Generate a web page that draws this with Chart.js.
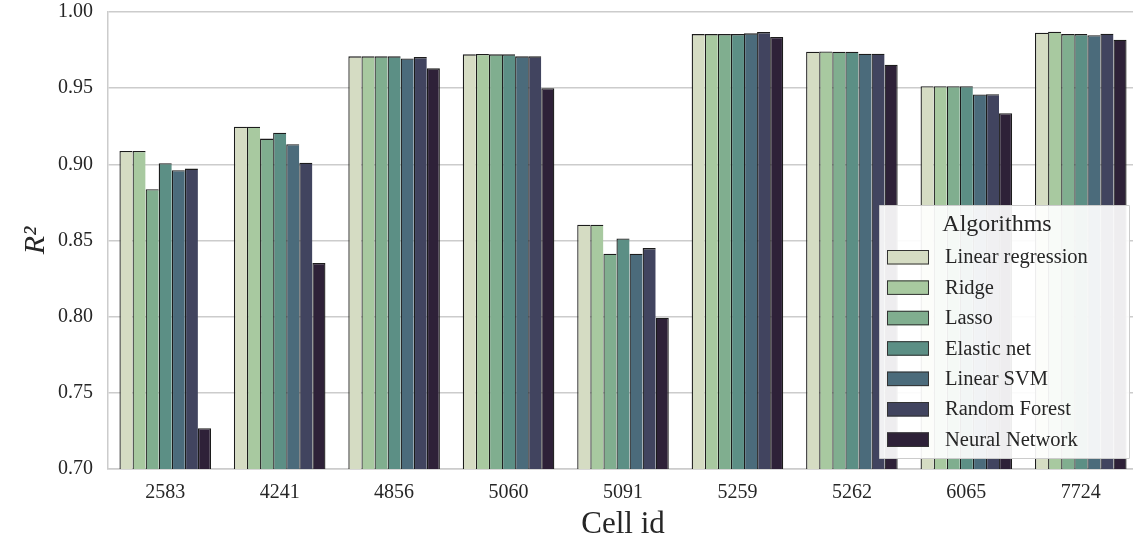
<!DOCTYPE html>
<html>
<head>
<meta charset="utf-8">
<script src="https://cdn.jsdelivr.net/npm/chart.js@4.4.0/dist/chart.umd.min.js"></script>
<style>
  html, body { margin: 0; padding: 0; overflow: hidden; background: #fff; }
  #wrap { width: 1138px; height: 540px; }
</style>
</head>
<body>
<div id="wrap"><canvas id="myChart"></canvas></div>
<script>
// categories
const cellIds = ['2583', '4241', '4856', '5060', '5091', '5259', '5262', '6065', '7724'];
// R^2 per algorithm
const linearRegression = [0.9088, 0.9247, 0.9709, 0.9722, 0.8603, 0.9855, 0.9739, 0.9513, 0.9864];
const ridge            = [0.9088, 0.9247, 0.9709, 0.9724, 0.8603, 0.9855, 0.9741, 0.9513, 0.9871];
const lasso            = [0.8837, 0.9169, 0.9709, 0.9722, 0.8413, 0.9855, 0.9739, 0.9513, 0.9855];
const elasticNet       = [0.9007, 0.9208, 0.9709, 0.9722, 0.8513, 0.9855, 0.9739, 0.9513, 0.9855];
const linearSVM        = [0.8961, 0.9132, 0.9695, 0.9709, 0.8413, 0.9860, 0.9726, 0.9459, 0.9847];
const randomForest     = [0.8972, 0.9011, 0.9704, 0.9709, 0.8450, 0.9868, 0.9726, 0.9460, 0.9858];
const neuralNetwork    = [0.7268, 0.8353, 0.9630, 0.9500, 0.7993, 0.9836, 0.9654, 0.9336, 0.9818];
// y tick labels
const yTicks = ['0.70', '0.75', '0.80', '0.85', '0.90', '0.95', '1.00'];

const seriesNames = ['Linear regression', 'Ridge', 'Lasso', 'Elastic net', 'Linear SVM', 'Random Forest', 'Neural Network'];
const seriesValues = [linearRegression, ridge, lasso, elasticNet, linearSVM, randomForest, neuralNetwork];
const palette = ['#d5dcc3', '#a8c9a0', '#80ae8f', '#5c8f85', '#4b6b7b', '#41445f', '#2e2138'];

const serif = "'Liberation Serif', 'DejaVu Serif', serif";
const textColor = '#262626';
const gridColor = '#cccccc';

// legend drawn inside the plot, like the matplotlib one
const insideLegend = {
    id: 'insideLegend',
    afterDraw(chart) {
        const ctx = chart.ctx;
        const area = chart.chartArea;
        const w = 250, h = 253;
        const x = area.right - 9 - w;
        const y = area.bottom - 11 - h;
        ctx.save();
        ctx.fillStyle = 'rgba(255,255,255,0.92)';
        ctx.strokeStyle = gridColor;
        ctx.lineWidth = 1;
        ctx.beginPath();
        ctx.rect(x + 0.5, y + 0.5, w, h);
        ctx.fill();
        ctx.stroke();
        // title
        ctx.fillStyle = textColor;
        ctx.font = '24px ' + serif;
        ctx.textAlign = 'center';
        ctx.textBaseline = 'middle';
        ctx.fillText('Algorithms', x + w / 2 - 7, y + 20);
        // items
        ctx.textAlign = 'left';
        ctx.font = '20.5px ' + serif;
        chart.data.datasets.forEach((ds, i) => {
            const rowY = y + 52 + i * 30.4;
            ctx.fillStyle = ds.backgroundColor;
            ctx.fillRect(x + 8, rowY - 7, 42, 14.5);
            ctx.strokeStyle = '#333';
            ctx.lineWidth = 1;
            ctx.strokeRect(x + 8.5, rowY - 6.5, 41, 13.5);
            ctx.fillStyle = textColor;
            ctx.fillText(ds.label, x + 66, rowY + 1);
        });
        ctx.restore();
    }
};

const datasets = seriesNames.map((name, i) => ({
    label: name,
    data: seriesValues[i],
    backgroundColor: palette[i],
    borderColor: '#1c1c1c',
    borderWidth: { top: 1.3, left: 1.3, right: i === seriesNames.length - 1 ? 1.3 : 0, bottom: 0 },
    borderSkipped: 'start',
    barPercentage: 1.0,
    categoryPercentage: 0.8
}));

const ctx = document.getElementById('myChart').getContext('2d');
const myChart = new Chart(ctx, {
    type: 'bar',
    data: { labels: cellIds, datasets: datasets },
    options: {
        responsive: true,
        maintainAspectRatio: false,
        animation: false,
        layout: { padding: 0 },
        plugins: {
            legend: { display: false },
            tooltip: { enabled: false }
        },
        scales: {
            x: {
                grid: { display: false, drawTicks: false },
                border: { display: true, color: gridColor, width: 1.5 },
                ticks: {
                    color: textColor,
                    font: { family: serif, size: 20 },
                    padding: 12
                },
                title: {
                    display: true,
                    text: 'Cell id',
                    color: textColor,
                    font: { family: serif, size: 31, lineHeight: 1 },
                    padding: { top: 0, bottom: 0 }
                },
                afterFit(scale) { scale.height = 71; }
            },
            y: {
                min: 0.7,
                max: 1.0,
                grid: { color: gridColor, lineWidth: 1.5, drawTicks: false },
                border: { display: true, color: gridColor, width: 1.5 },
                ticks: {
                    stepSize: 0.05,
                    color: textColor,
                    font: { family: serif, size: 20 },
                    padding: 15,
                    callback: function (value) {
                        const idx = Math.round((value - 0.7) / 0.05);
                        return yTicks[idx];
                    }
                },
                title: {
                    display: true,
                    text: 'R²',
                    color: textColor,
                    font: { family: serif, size: 30, style: 'italic', lineHeight: 1 },
                    padding: { top: 21, bottom: 0 }
                },
                afterFit(scale) {
                    scale.width = 108;
                    // keep the top of the plot where the reference has it
                    scale.paddingTop = 12;
                }
            }
        }
    },
    plugins: [insideLegend]
});
</script>
</body>
</html>
